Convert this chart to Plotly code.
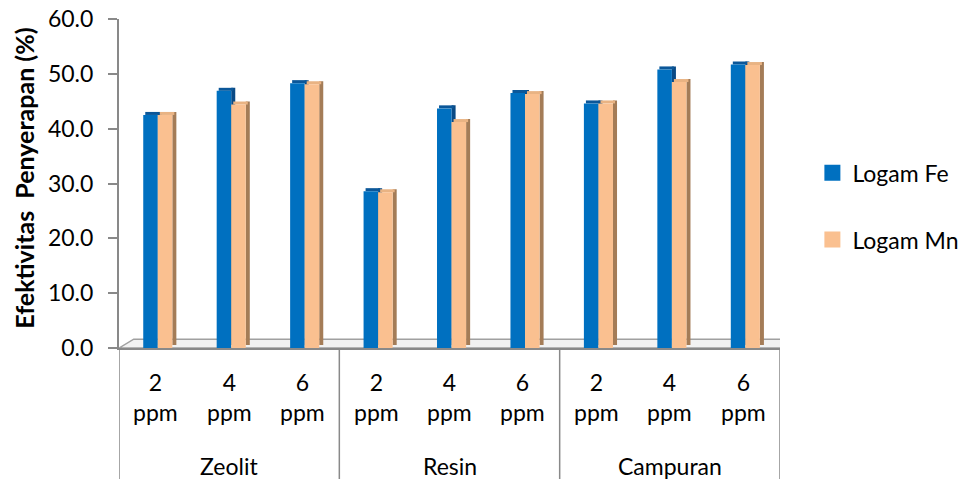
import plotly.graph_objects as go

# ---- data ----
groups = ["Zeolit", "Resin", "Campuran"]
doses = ["2 ppm", "4 ppm", "6 ppm"]
fe_values = [42.5, 46.9, 48.3, 28.6, 43.7, 46.5, 44.6, 50.8, 51.7]
mn_values = [42.5, 44.4, 48.1, 28.4, 41.2, 46.3, 44.6, 48.5, 51.6]
series_names = ["Logam Fe", "Logam Mn"]
y_ticks = [0, 10, 20, 30, 40, 50, 60]
y_title = "Efektivitas  Penyerapan (%)"

cats = [f"{g}|{d}" for g in groups for d in doses]

# ---- style ----
FONT = "Lato"
FS = 23
W = 0.198      # bar width (category units)
OFE = -0.17    # Fe bar offset
OMN = 0.028    # Mn bar offset
DX = 0.055     # 3D depth, x
DY = 0.55      # 3D depth, y (value units)
n = len(cats)

fe_cols = dict(front="#0070C0", side="#0A4A85", top="#0B5799")
mn_cols = dict(front="#FAC090", side="#A47C57", top="#E9B383")

fig = go.Figure()

def add_series(vals, off, cols):
    # side face
    fig.add_trace(go.Bar(x=cats, y=vals, base=[DY] * n, offset=off + W, width=DX,
                         marker=dict(color=cols["side"], line=dict(width=0)),
                         showlegend=False, hoverinfo="skip"))
    # top face
    fig.add_trace(go.Bar(x=cats, y=[DY] * n, base=vals, offset=off + DX / 2, width=W,
                         marker=dict(color=cols["top"], line=dict(width=0)),
                         showlegend=False, hoverinfo="skip"))
    # front face
    fig.add_trace(go.Bar(x=cats, y=vals, offset=off, width=W,
                         marker=dict(color=cols["front"], line=dict(width=0)),
                         showlegend=False))

add_series(fe_values, OFE, fe_cols)
add_series(mn_values, OMN, mn_cols)

# legend entries
for name, col in zip(series_names, [fe_cols["front"], mn_cols["front"]]):
    fig.add_trace(go.Scatter(x=[None], y=[None], mode="markers", name=name,
                             legendgroup=name,
                             marker=dict(symbol="square", size=16, color=col)))

shapes = []
# floor
shapes.append(dict(type="path", xref="x", yref="y", layer="below",
                   path="M -0.5,0 L 8.5,0 L 8.7,1.6 L -0.3,1.6 Z",
                   fillcolor="#F2F2F2", line=dict(color="#A0A0A0", width=1.5)))
# dividers in category area
for xb in [-0.5, 2.5, 5.5, 8.5]:
    shapes.append(dict(type="line", xref="x", yref="paper", x0=xb, x1=xb, y0=0, y1=-0.42,
                       line=dict(color="#898989", width=1.5)))
fig.update_layout(shapes=shapes)

annotations = []
for g in groups:
    for d in doses:
        annotations.append(dict(x=f"{g}|{d}", y=-0.149, xref="x", yref="paper",
                                text=d.replace(" ", "<br>"), showarrow=False,
                                font=dict(family=FONT, size=FS, color="#000000"),
                                yanchor="middle"))
    annotations.append(dict(x=f"{g}|{doses[1]}", y=-0.3587, xref="x", yref="paper",
                            text=g, showarrow=False,
                            font=dict(family=FONT, size=FS, color="#000000"),
                            yanchor="middle"))
annotations.append(dict(x=-0.144, y=0.517, xref="paper", yref="paper", text=y_title,
                        textangle=-90, showarrow=False,
                        font=dict(family=FONT, size=25, color="#000000", weight="bold"),
                        xanchor="center", yanchor="middle"))
fig.update_layout(annotations=annotations)

fig.update_layout(
    width=968, height=479,
    margin=dict(l=119, r=188, t=19, b=131, autoexpand=False),
    paper_bgcolor="white", plot_bgcolor="white",
    barmode="overlay",
    font=dict(family=FONT, size=FS, color="#000000"),
    xaxis=dict(type="category", range=[-0.5, 8.5], showticklabels=False,
               showline=True, linecolor="#898989", linewidth=2, showgrid=False,
               zeroline=False, ticks=""),
    yaxis=dict(range=[0, 60], tickvals=y_ticks, tickformat=".1f",
               showline=True, linecolor="#898989", linewidth=2,
               ticks="outside", ticklen=9, tickwidth=2, tickcolor="#898989",
               ticklabelstandoff=10, showgrid=False, zeroline=False,
               tickfont=dict(family=FONT, size=FS, color="#000000")),
    legend=dict(x=1.049, y=0.598, xanchor="left", yanchor="top",
                font=dict(family=FONT, size=FS, color="#000000"),
                tracegroupgap=34, bgcolor="rgba(0,0,0,0)"),
)

fig.write_html("out.html")
